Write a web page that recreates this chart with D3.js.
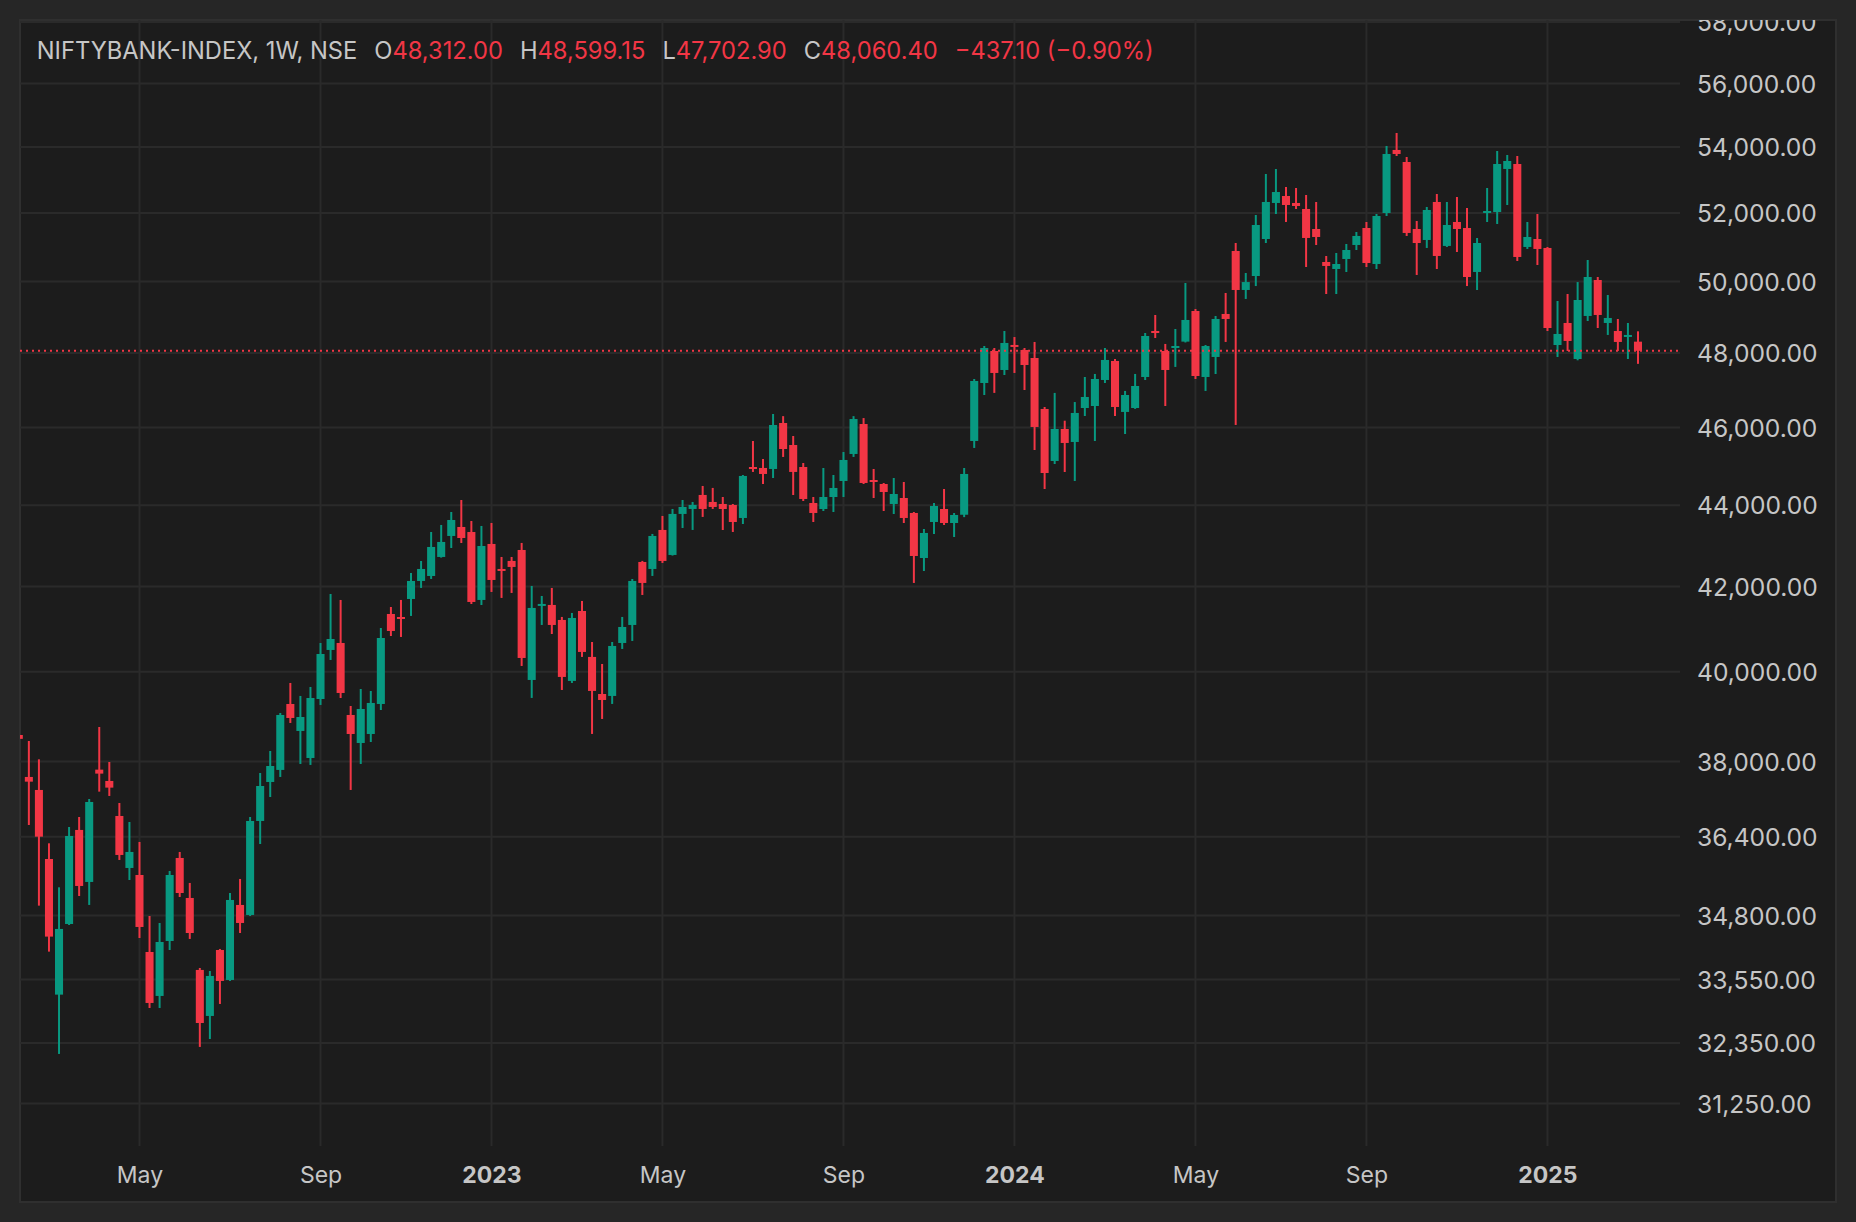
<!DOCTYPE html>
<html>
<head>
<meta charset="utf-8">
<script src="https://cdn.jsdelivr.net/npm/d3@7"></script>
<style>
html, body { margin: 0; padding: 0; background: #262626; }
svg { display: block; }
text { font-family: Inter, "Noto Sans", "Open Sans", sans-serif; }
</style>
</head>
<body>
<svg id="chart" width="1856" height="1222"></svg>
<script>
// ---------------- DATA ----------------
const symbolLabel = "NIFTYBANK-INDEX, 1W, NSE";
const firstWeek = "2022-02-07";   // Monday of the first weekly bar

const opens = [38582,37667,37388,35941,33259,34630,36543,35472,37825,37581,
  36836,35757,35614,34080,33234,34295,35962,35149,33732,32856,
  34119,33539,35009,34809,36731,37559,37819,39272,38671,38078,
  39384,40504,40666,39026,38406,38604,39272,41346,41275,41702,
  42134,42254,42716,43232,43455,43330,41679,43035,42424,42619,
  42887,39815,41537,41560,41205,39793,41417,40343,39497,39453,
  40666,41087,42594,42424,43381,42765,43780,43905,44258,44081,
  44030,44005,43679,44971,44946,44920,46117,45540,44971,44055,
  43904,44206,44613,45307,46090,44638,44536,44030,44181,43804,
  42691,43579,43904,43554,43760,45645,47184,48055,47536,48221,
  48082,47863,46488,45126,45959,45619,46514,46567,47265,47782,
  46409,46514,47346,48608,48055,48137,48313,49167,47346,47891,
  49083,50883,49761,50160,51233,52299,52508,52299,52120,51527,
  50564,50362,50651,51058,51556,50506,52000,53909,53539,51527,
  51204,52329,51030,51734,51556,50276,52001,52030,53326,53478,
  51000,51233,50971,48220,48831,47836,49027,50046,48831,48607,
  48443,48312.00];
const highs = [38700,38450,38049,36265,35364,36605,36815,37196,38759,37991,
  37111,36710,36293,34789,34650,35696,36086,35452,33770,33712,
  34139,35249,35533,36815,37753,38231,39071,39747,39453,39656,
  40666,41822,41679,39227,39610,39565,41016,41512,41679,42327,
  42618,43330,43505,43829,44130,43604,43480,43555,42716,42716,
  43060,42014,41774,41966,41276,41370,41655,40689,40181,40689,
  41276,42182,42620,43282,43730,43905,44131,44081,44486,44436,
  44206,44030,44766,45645,45177,46355,46298,45775,45074,44206,
  44946,44766,45358,46298,46247,44920,44562,44689,44587,43829,
  43405,44055,44409,43804,44945,47292,48193,48137,48608,48440,
  48137,48304,46541,46917,46177,46673,47346,47428,48137,47836,
  46970,47428,48552,49055,48249,48664,49960,49223,48220,49027,
  49676,51116,50247,51941,53173,53326,52779,52749,52538,52329,
  50738,50825,51087,51439,51734,51971,54032,54435,53692,51763,
  52180,52568,52329,52479,52150,51263,52749,53877,53754,53723,
  51734,51971,51000,49449,49647,49987,50622,50132,49618,48943,
  48831,48599.15];
const lows = [38400,36647,34995,34087,32150,34610,35189,35009,37352,37260,
  35921,35512,34354,33006,33006,34119,35169,34335,32279,32426,
  33082,33520,34452,34789,36251,37238,37667,38848,37948,37927,
  39250,40273,39407,37388,37948,38428,39137,40829,40806,41299,
  41966,42182,42700,42936,43059,41583,41559,41870,41727,41846,
  40135,39408,41087,40876,39588,39747,40343,38605,38937,39273,
  40527,40713,41798,42255,42570,42750,43430,43381,43705,43905,
  43380,43331,43529,44844,44536,44689,45230,44257,44105,43579,
  43854,43829,44206,45230,44536,44181,43854,43779,43554,42086,
  42375,43281,43504,43207,43700,45463,46861,46917,47400,47455,
  46995,45410,44409,45048,44843,44613,46301,45645,47184,46301,
  45828,46490,47265,48414,46567,47619,48290,47292,46969,47427,
  48304,46065,49506,49873,51116,51971,51734,52120,50420,51058,
  49647,49647,50276,50912,50420,50362,51911,53723,51322,50190,
  50971,50362,51000,50854,49873,49761,51734,51675,52239,50593,
  50942,50477,48607,47891,48056,47800,48887,48691,48498,48056,
  47836,47702.90];
const closes = [38497,37566,36403,34381,34532,36417,35391,37132,37739,37438,
  36024,36086,34571,33101,34275,35614,35249,34452,32724,33616,
  33520,35109,34650,36731,37473,37904,39026,38959,38981,39407,
  40411,40759,39520,38604,39160,39295,40782,40946,41228,42134,
  42424,42961,43084,43629,43182,41631,42985,42158,42376,42473,
  40319,41489,41584,41087,39884,41252,40458,39566,39362,40597,
  41040,42134,42086,43232,42619,43780,43955,44006,43905,43955,
  43904,43579,44741,44920,44792,46064,45436,44844,44156,43804,
  44206,44435,45152,46222,44562,44587,44333,44282,43679,42740,
  43306,43980,43554,43754,44792,47238,48137,47455,48276,48175,
  47672,46012,44817,45959,45593,46382,46808,47292,47809,46541,
  46861,47103,48469,48552,47536,48193,48915,47373,48192,48943,
  48943,49761,49987,51645,52329,52628,52239,52209,51263,51292,
  50449,50506,50912,51322,50535,51911,53785,53785,51410,51116,
  52090,50738,51645,51527,50132,51116,52060,53478,53570,50709,
  51292,50942,48691,48525,48331,49477,50132,49055,48971,48304,
  48497.50,48060.40];

const priceTicks = [31250, 32350, 33550, 34800, 36400, 38000, 40000, 42000,
  44000, 46000, 48000, 50000, 52000, 54000, 56000, 58000];
const timeTickDates = ["2022-05-02","2022-09-05","2023-01-02","2023-05-01",
  "2023-09-04","2024-01-01","2024-05-06","2024-09-02","2025-01-06"];
const timeTickLabels = ["May","Sep","2023","May","Sep","2024","May","Sep","2025"];
const ohlcKeys = ["O","H","L","C"];

// ---------------- LAYOUT ----------------
const W = 1856, H = 1222;
const panel = {x: 20, y: 20, w: 1816, h: 1182};
const plot = {left: 20, right: 1680, top: 20, bottom: 1146};
const barStep = 10.057, firstX = 18.8;
const upColor = "#089981", downColor = "#f23645";
const gridColor = "#2a2a2a";
const textColor = "#c6c6c6";

const svg = d3.select("#chart");
const parse = d3.utcParse("%Y-%m-%d");
const start = parse(firstWeek);
const bars = opens.map((o, i) => ({
  date: d3.utcMonday.offset(start, i),
  o, h: highs[i], l: lows[i], c: closes[i]
}));

const x = d3.scaleUtc()
  .domain([bars[0].date, bars[bars.length - 1].date])
  .range([firstX, firstX + (bars.length - 1) * barStep]);
const y = d3.scaleLog()
  .domain([31250, 56000])
  .range([1103.6, 83.4]);

// background panel
svg.append("rect").attr("x", 0).attr("y", 0).attr("width", W).attr("height", H).attr("fill", "#262626");
svg.append("rect")
  .attr("x", panel.x).attr("y", panel.y).attr("width", panel.w).attr("height", panel.h)
  .attr("fill", "#1c1c1c").attr("stroke", "#2f2f2f").attr("stroke-width", 2);

const defs = svg.append("defs");
defs.append("clipPath").attr("id", "plotClip").append("rect")
  .attr("x", plot.left).attr("y", plot.top)
  .attr("width", plot.right - plot.left).attr("height", plot.bottom - plot.top);
defs.append("clipPath").attr("id", "panelClip").append("rect")
  .attr("x", panel.x).attr("y", panel.y).attr("width", panel.w).attr("height", panel.h);

// grid
const grid = svg.append("g").attr("clip-path", "url(#panelClip)");
grid.selectAll("line.h").data(priceTicks).join("line")
  .attr("class", "h")
  .attr("x1", plot.left).attr("x2", plot.right)
  .attr("y1", d => y(d)).attr("y2", d => y(d))
  .attr("stroke", gridColor).attr("stroke-width", 2);
grid.selectAll("line.v").data(timeTickDates).join("line")
  .attr("class", "v")
  .attr("x1", d => x(parse(d))).attr("x2", d => x(parse(d)))
  .attr("y1", plot.top).attr("y2", plot.bottom)
  .attr("stroke", gridColor).attr("stroke-width", 2);

// candles
const cg = svg.append("g").attr("clip-path", "url(#plotClip)");
const bodyW = barStep * 0.8;
const candle = cg.selectAll("g.candle").data(bars).join("g").attr("class", "candle");
candle.append("line")
  .attr("x1", d => x(d.date)).attr("x2", d => x(d.date))
  .attr("y1", d => y(d.h)).attr("y2", d => y(d.l))
  .attr("stroke", d => d.c >= d.o ? upColor : downColor)
  .attr("stroke-width", 2);
candle.append("rect")
  .attr("x", d => x(d.date) - bodyW / 2)
  .attr("width", bodyW)
  .attr("y", d => Math.min(y(d.o), y(d.c)))
  .attr("height", d => Math.max(2, Math.abs(y(d.o) - y(d.c))))
  .attr("fill", d => d.c >= d.o ? upColor : downColor);

// last price line
const last = bars[bars.length - 1];
const prev = bars[bars.length - 2];
cg.append("line")
  .attr("x1", plot.left).attr("x2", plot.right)
  .attr("y1", y(last.c)).attr("y2", y(last.c))
  .attr("stroke", downColor).attr("stroke-width", 2)
  .attr("stroke-dasharray", "2,4");

// price axis
const fmt = d3.format(",.2f");
const yAxis = d3.axisRight(y).tickValues(priceTicks).tickFormat(fmt).tickSize(0).tickPadding(0);
const ya = svg.append("g").attr("clip-path", "url(#panelClip)")
  .append("g").attr("transform", "translate(1697,0)").call(yAxis);
ya.select(".domain").remove();
ya.selectAll("text").attr("fill", textColor).attr("font-size", 24.6)
  .attr("font-family", "Inter, 'Noto Sans', sans-serif").attr("dy", "0.35em");

// time axis
const xAxis = d3.axisBottom(x).tickValues(timeTickDates.map(parse))
  .tickFormat((d, i) => timeTickLabels[i]).tickSize(0).tickPadding(0);
const xa = svg.append("g").attr("transform", "translate(0,1175)").call(xAxis);
xa.select(".domain").remove();
xa.selectAll("text").attr("fill", textColor).attr("font-size", 23)
  .attr("font-family", "Inter, 'Noto Sans', sans-serif")
  .attr("y", 0).attr("dy", "0.35em")
  .attr("font-weight", (d, i) => /^\d+$/.test(timeTickLabels[i]) ? 700 : 400);

// header legend
const values = [last.o, last.h, last.l, last.c];
const chg = last.c - prev.c;
const pct = chg / prev.c * 100;
const signFmt = v => (v < 0 ? "\u2212" : "+") + d3.format(",.2f")(Math.abs(v));
const hdr = svg.append("text").attr("x", 36.7).attr("y", 51).attr("dy", "0.35em")
  .attr("font-size", 23.7).attr("fill", textColor);
hdr.append("tspan").text(symbolLabel);
ohlcKeys.forEach((k, i) => {
  hdr.append("tspan").attr("dx", 17).attr("fill", textColor).text(k);
  hdr.append("tspan").attr("fill", downColor).text(fmt(values[i]));
});
hdr.append("tspan").attr("dx", 17).attr("fill", downColor)
  .text(signFmt(chg) + " (" + (pct < 0 ? "\u2212" : "+") + Math.abs(pct).toFixed(2) + "%)");
</script>
</body>
</html>
